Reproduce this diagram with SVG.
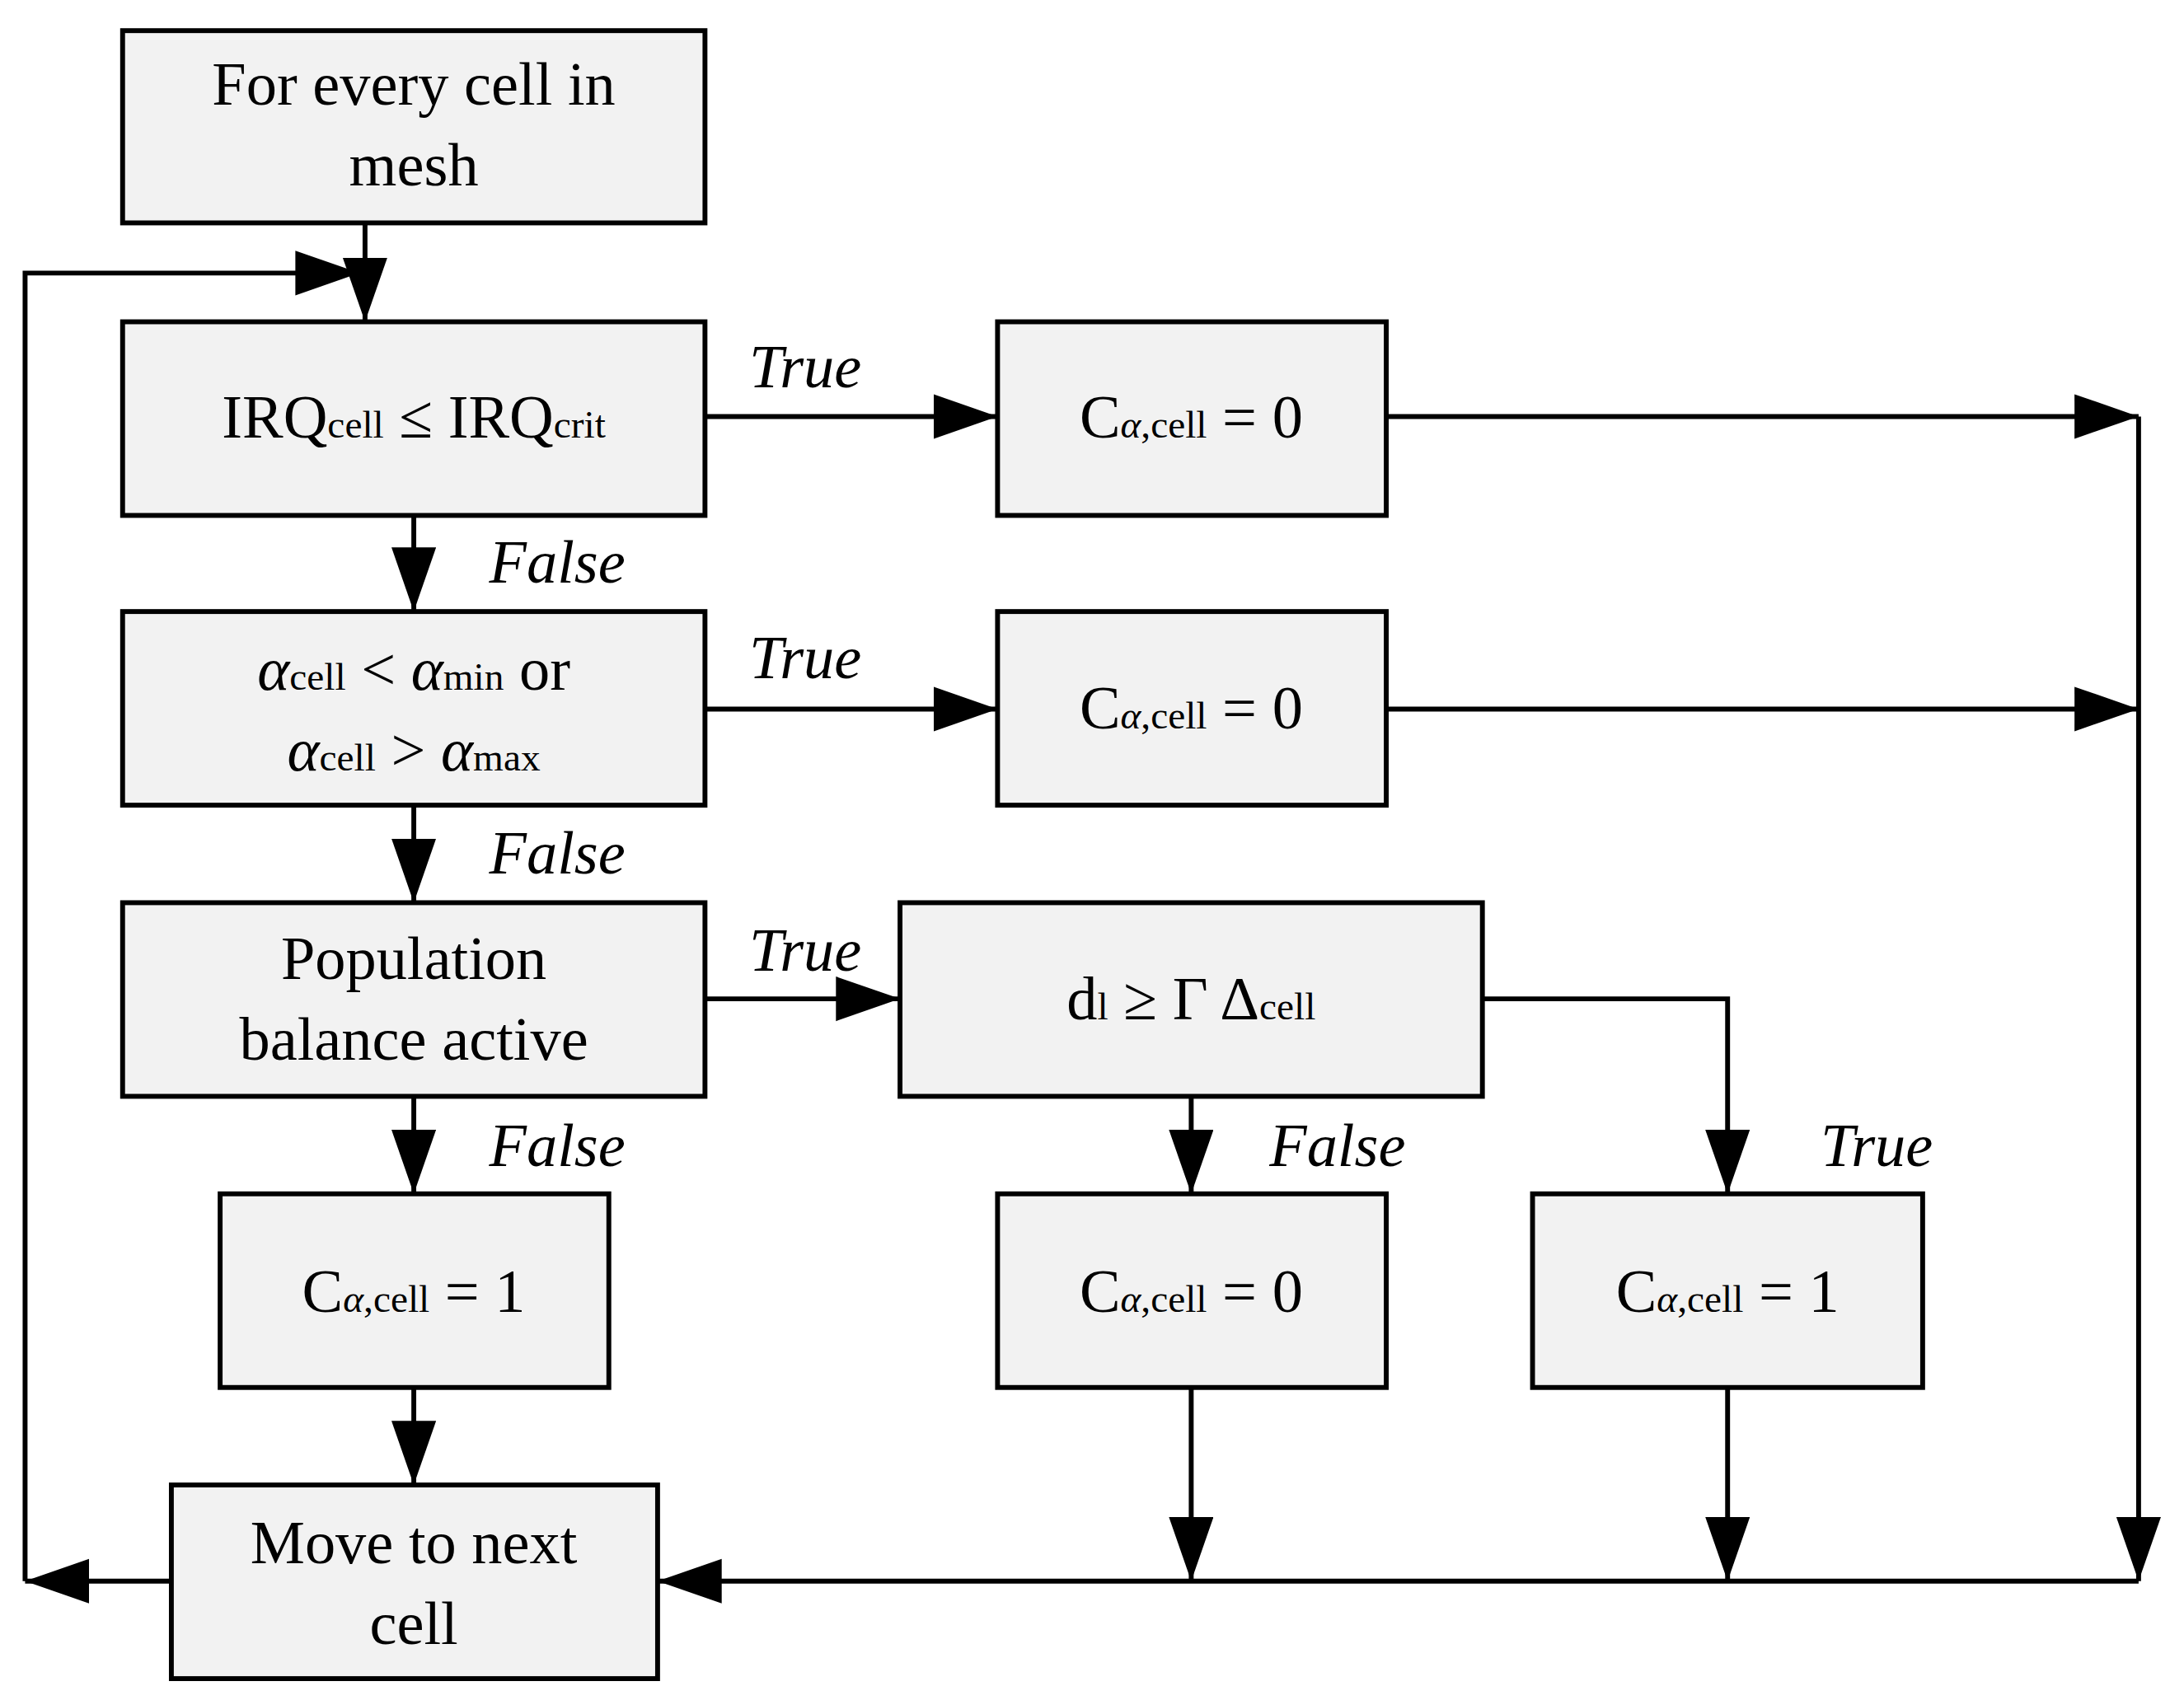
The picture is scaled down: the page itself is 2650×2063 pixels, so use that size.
<svg xmlns="http://www.w3.org/2000/svg" width="2650" height="2063" viewBox="0 0 2650 2063">
<style>
.b{fill:#f2f2f2;stroke:#000;stroke-width:3.5}
.c{fill:none;stroke:#000;stroke-width:3.5}
text{font-family:"Liberation Serif","DejaVu Serif",serif;font-size:44px;fill:#000;text-anchor:middle}
.i{font-style:italic}
.s{font-size:28px}
</style>
<defs>
<marker id="a" markerUnits="userSpaceOnUse" markerWidth="48" markerHeight="34" refX="46" refY="16" orient="auto"><path d="M0,0 L46,16 L0,32 z" fill="#000"/></marker>
</defs>
<rect width="2650" height="2063" fill="#fff"/>
<g transform="scale(1.6905)">
<g id="n1"><rect class="b" x="88" y="22" width="418" height="138"/><text x="297" y="75">For every cell in</text><text x="297" y="133">mesh</text></g>
<g id="n2"><rect class="b" x="88" y="231" width="418" height="139"/><text x="297" y="314">IRQ<tspan class="s">cell</tspan> ≤ IRQ<tspan class="s">crit</tspan></text></g>
<g id="n3"><rect class="b" x="88" y="439" width="418" height="139"/><text x="297" y="495"><tspan class="i">α</tspan><tspan class="s">cell</tspan> &lt; <tspan class="i">α</tspan><tspan class="s">min</tspan> or</text><text x="297" y="553"><tspan class="i">α</tspan><tspan class="s">cell</tspan> &gt; <tspan class="i">α</tspan><tspan class="s">max</tspan></text></g>
<g id="n4"><rect class="b" x="88" y="648" width="418" height="139"/><text x="297" y="703">Population</text><text x="297" y="761">balance active</text></g>
<g id="n5"><rect class="b" x="158" y="857" width="279" height="139"/><text x="297" y="942">C<tspan class="s" font-style="italic">α</tspan><tspan class="s">,cell</tspan> = 1</text></g>
<g id="n6"><rect class="b" x="123" y="1066" width="349" height="139"/><text x="297" y="1122">Move to next</text><text x="297" y="1180">cell</text></g>
<g id="n7"><rect class="b" x="716" y="231" width="279" height="139"/><text x="855" y="314">C<tspan class="s" font-style="italic">α</tspan><tspan class="s">,cell</tspan> = 0</text></g>
<g id="n8"><rect class="b" x="716" y="439" width="279" height="139"/><text x="855" y="523">C<tspan class="s" font-style="italic">α</tspan><tspan class="s">,cell</tspan> = 0</text></g>
<g id="n9"><rect class="b" x="646" y="648" width="418" height="139"/><text x="855" y="732">d<tspan class="s">l</tspan> ≥ Γ Δ<tspan class="s">cell</tspan></text></g>
<g id="n10"><rect class="b" x="716" y="857" width="279" height="139"/><text x="855" y="942">C<tspan class="s" font-style="italic">α</tspan><tspan class="s">,cell</tspan> = 0</text></g>
<g id="n11"><rect class="b" x="1100" y="857" width="280" height="139"/><text x="1240" y="942">C<tspan class="s" font-style="italic">α</tspan><tspan class="s">,cell</tspan> = 1</text></g>
<g id="connectors" class="c">
<path class="c" d="M262,160 V231" marker-end="url(#a)"/>
<path class="c" d="M123,1135 H18" marker-end="url(#a)"/>
<path class="c" d="M18,1135 V196 H258" marker-end="url(#a)"/>
<path class="c" d="M297,370 V439" marker-end="url(#a)"/>
<path class="c" d="M297,578 V648" marker-end="url(#a)"/>
<path class="c" d="M297,787 V857" marker-end="url(#a)"/>
<path class="c" d="M297,996 V1066" marker-end="url(#a)"/>
<path class="c" d="M506,299 H716" marker-end="url(#a)"/>
<path class="c" d="M506,509 H716" marker-end="url(#a)"/>
<path class="c" d="M506,717 H646" marker-end="url(#a)"/>
<path class="c" d="M995,299 H1535" marker-end="url(#a)"/>
<path class="c" d="M995,509 H1535" marker-end="url(#a)"/>
<path class="c" d="M1535,299 V1135" marker-end="url(#a)"/>
<path class="c" d="M1064,717 H1240 V857" marker-end="url(#a)"/>
<path class="c" d="M855,787 V857" marker-end="url(#a)"/>
<path class="c" d="M855,996 V1135" marker-end="url(#a)"/>
<path class="c" d="M1240,996 V1135" marker-end="url(#a)"/>
<path class="c" d="M1535,1135 H472" marker-end="url(#a)"/>
</g>
<g id="labels" class="i">
<text class="i" x="578" y="278">True</text>
<text class="i" x="578" y="487">True</text>
<text class="i" x="578" y="697">True</text>
<text class="i" x="400" y="418">False</text>
<text class="i" x="400" y="627">False</text>
<text class="i" x="400" y="837">False</text>
<text class="i" x="960" y="837">False</text>
<text class="i" x="1347" y="837">True</text>
</g>
</g>
</svg>
